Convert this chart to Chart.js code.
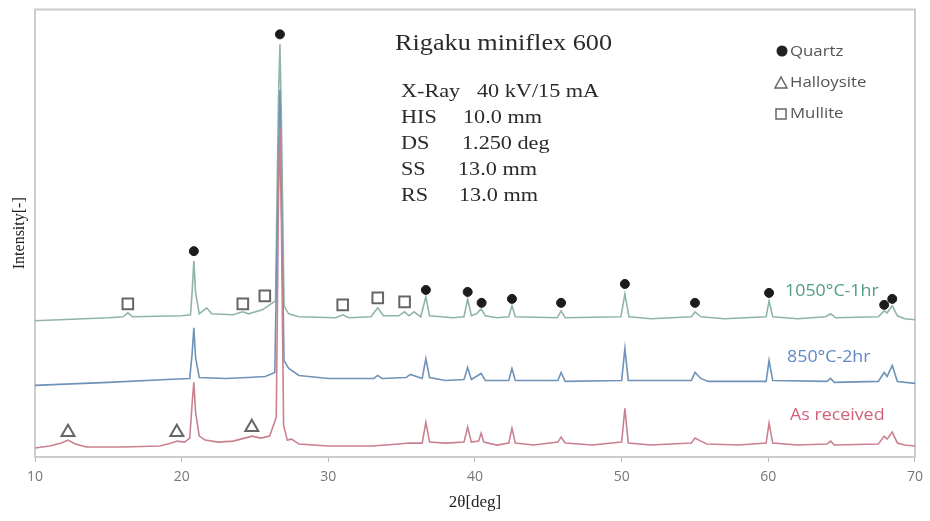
<!DOCTYPE html>
<html>
<head>
<meta charset="utf-8">
<script src="https://cdn.jsdelivr.net/npm/chart.js@4/dist/chart.umd.min.js"></script>
<style>
  body { margin: 0; background: #fff; }
</style>
</head>
<body>
<canvas id="xrd" width="930" height="521"></canvas>
<script>
// XRD patterns: [2theta (deg), intensity (a.u., stacked)]
const asReceived = [[10,9],[11,11],[11.8,14],[12.25,17],[12.75,13],[13.5,10],[16,10],[18.5,11],[19.3,14],[19.7,16],[20.2,15],[20.55,19],[20.72,55],[20.83,75],[20.95,45],[21.2,21],[21.6,17],[22.5,15],[23.5,16],[24.3,19],[24.8,21],[25.4,19],[26.0,21],[26.45,40],[26.6,255],[26.7,332],[26.8,235],[26.95,32],[27.2,17],[27.5,18],[28,13],[30,11],[33,11],[34.8,13],[35.5,14],[36.4,14],[36.65,35],[36.9,15],[38,14],[39.25,15],[39.5,30],[39.75,15],[40.25,16],[40.42,24],[40.6,15],[41.5,12],[42.3,14],[42.52,29],[42.75,14],[44,12],[45.65,15],[45.87,20],[46.15,14],[48,12],[50.0,15],[50.22,49],[50.45,14],[52,12],[54.75,14],[55.0,19],[55.4,16],[55.8,13],[58,12],[59.85,14],[60.05,34],[60.3,14],[62,12],[64.0,13],[64.25,16],[64.5,12],[67.5,13],[67.9,21],[68.1,18],[68.45,25],[68.8,14],[69.3,12],[70,11]];

const fired850 = [[10,72],[15,75],[19,78],[20.55,79],[20.72,105],[20.83,130],[20.95,100],[21.2,80],[23,79],[24.5,80],[25.7,81],[26.35,85],[26.6,300],[26.7,369],[26.8,260],[26.98,97],[27.3,89],[28,82],[30,79],[33.1,79],[33.37,82],[33.65,79],[35.3,80],[35.6,83],[36.4,79],[36.65,99],[36.9,80],[38,77],[39.25,78],[39.5,90],[39.75,78],[40.42,84],[40.7,77],[42.3,77],[42.52,89],[42.75,77],[45.65,77],[45.87,85],[46.15,76],[50.0,77],[50.22,109],[50.45,77],[54.75,77],[55.0,85],[55.4,79],[55.9,76],[59.85,76],[60.05,97],[60.3,77],[64.0,76],[64.25,79],[64.5,75],[67.5,76],[67.9,85],[68.1,81],[68.45,92],[68.8,76],[70,74]];

const fired1050 = [[10,137],[15,140],[16.0,141],[16.33,145],[16.65,141],[20,142],[20.6,143],[20.72,167],[20.83,197],[20.95,165],[21.2,144],[21.7,150],[22.05,144],[23.5,143],[24.17,146],[24.55,144],[25.5,148],[25.9,152],[26.4,157],[26.6,360],[26.7,415],[26.8,340],[26.98,152],[27.3,144],[28,141],[30.5,140],[30.98,143],[31.4,140],[32.9,141],[33.37,150],[33.75,142],[34.8,142],[35.2,146],[35.5,142],[35.85,146],[36.3,141],[36.65,161],[36.9,142],[38.5,140],[39.25,141],[39.5,159],[39.75,142],[40.1,144],[40.42,149],[40.7,142],[41.5,140],[42.3,141],[42.52,152],[42.75,141],[45.6,140],[45.87,147],[46.15,140],[49.95,141],[50.22,164],[50.5,141],[52,139],[54.75,141],[55.0,146],[55.4,141],[57,139],[59.85,141],[60.05,157],[60.3,141],[62,139],[63.9,141],[64.25,144],[64.6,140],[67.5,141],[67.9,147],[68.1,145],[68.45,152],[68.8,142],[69.3,139],[70,138]];

// phase marks placed over the peaks
const quartzPeaks = [[26.7,425],[20.83,207],[36.65,168],[39.5,166],[40.45,155],[42.52,159],[45.87,155],[50.22,174],[55.0,155],[60.05,165],[67.9,153],[68.45,159]];
const halloysitePeaks = [[12.25,25],[19.67,25],[24.78,30]];
const mullitePeaks = [[16.33,154],[24.17,154],[25.67,162],[30.98,153],[33.37,160],[35.2,156]];

const seriesNames = ["As received", "850\u00B0C-2hr", "1050\u00B0C-1hr"];
const phaseNames = ["Quartz", "Halloysite", "Mullite"];
const xTicks = [10, 20, 30, 40, 50, 60, 70];

const toXY = arr => arr.map(p => ({x: p[0], y: p[1]}));

function stretchText(ctx, text, x, y, sx) {
    ctx.save();
    ctx.translate(x, y);
    ctx.scale(sx, 1);
    ctx.fillText(text, 0, 0);
    ctx.restore();
}

const notes = {
    id: "notes",
    beforeDatasetsDraw(chart) {
        const {ctx, chartArea: a} = chart;
        ctx.save();
        ctx.strokeStyle = "#cccccc";
        ctx.lineWidth = 2;
        ctx.strokeRect(a.left, a.top, a.right - a.left, a.bottom - a.top);
        ctx.restore();
    },
    afterDraw(chart) {
        const ctx = chart.ctx;
        ctx.save();
        ctx.fillStyle = "#2a2a2a";
        ctx.textBaseline = "alphabetic";
        ctx.font = "23px 'Liberation Serif'";
        stretchText(ctx, "Rigaku miniflex 600", 395, 50, 1.14);
        ctx.font = "18.5px 'Liberation Serif'";
        const rows = [["X-Ray", "40 kV/15 mA", 477], ["HIS", "10.0 mm", 463], ["DS", "1.250 deg", 462], ["SS", "13.0 mm", 458], ["RS", "13.0 mm", 459]];
        rows.forEach((r, i) => {
            stretchText(ctx, r[0], 401, 97 + i * 26, 1.2);
            stretchText(ctx, r[1], r[2], 97 + i * 26, 1.2);
        });

        // phase legend
        ctx.fillStyle = "#222";
        ctx.beginPath();
        ctx.arc(782, 51, 5.5, 0, Math.PI * 2);
        ctx.fill();
        ctx.strokeStyle = "#666";
        ctx.lineWidth = 1.5;
        ctx.beginPath();
        ctx.moveTo(781, 77); ctx.lineTo(787, 88); ctx.lineTo(775, 88); ctx.closePath();
        ctx.stroke();
        ctx.strokeRect(776, 109, 10, 10);
        ctx.fillStyle = "#555";
        ctx.textBaseline = "middle";
        ctx.font = "15px 'Open Sans'";
        stretchText(ctx, phaseNames[0], 790, 52, 1.12);
        stretchText(ctx, phaseNames[1], 790, 83, 1.12);
        stretchText(ctx, phaseNames[2], 790, 114, 1.12);

        // series labels
        ctx.font = "16.5px 'Open Sans'";
        ctx.fillStyle = "#4f9e84";
        stretchText(ctx, seriesNames[2], 785, 291, 1.08);
        ctx.fillStyle = "#5f88c4";
        stretchText(ctx, seriesNames[1], 787, 357, 1.08);
        ctx.fillStyle = "#d1607a";
        stretchText(ctx, seriesNames[0], 790, 415, 1.08);
        ctx.restore();
    }
};

const chart = new Chart(document.getElementById("xrd"), {
    type: "scatter",
    data: {
        datasets: [
            {label: phaseNames[0], data: toXY(quartzPeaks), pointStyle: "circle", pointRadius: 4.5, backgroundColor: "#1c1c1c", borderColor: "#1c1c1c", borderWidth: 1},
            {label: phaseNames[1], data: toXY(halloysitePeaks), pointStyle: "triangle", pointRadius: 7.5, backgroundColor: "rgba(255,255,255,0)", borderColor: "#666", borderWidth: 2},
            {label: phaseNames[2], data: toXY(mullitePeaks), pointStyle: "rect", pointRadius: 7.5, backgroundColor: "rgba(255,255,255,0)", borderColor: "#666", borderWidth: 2},
            {label: seriesNames[0], data: toXY(asReceived), showLine: true, pointRadius: 0, borderColor: "#c9808f", borderWidth: 1.6, tension: 0},
            {label: seriesNames[1], data: toXY(fired850), showLine: true, pointRadius: 0, borderColor: "#6f93b8", borderWidth: 1.6, tension: 0},
            {label: seriesNames[2], data: toXY(fired1050), showLine: true, pointRadius: 0, borderColor: "#8fb5a6", borderWidth: 1.6, tension: 0},
        ],
    },
    options: {
        responsive: false,
        animation: false,
        layout: {padding: {top: 7, right: 14, left: 0, bottom: 0}},
        plugins: {legend: {display: false}, tooltip: {enabled: false}},
        scales: {
            x: {
                type: "linear", min: 10, max: 70,
                afterBuildTicks: s => { s.ticks = xTicks.map(v => ({value: v})); },
                afterFit: s => { s.height = 64; },
                ticks: {color: "#777", font: {family: "Open Sans", size: 14}, padding: 7},
                grid: {drawOnChartArea: false, tickLength: 5, color: "#bbb"},
                border: {color: "#c4c4c4", width: 2},
                title: {display: true, text: "2\u03B8[deg]", color: "#222", font: {family: "Liberation Serif", size: 17}, padding: {top: 0, bottom: 8}},
            },
            y: {
                min: 0, max: 450,
                afterFit: s => { s.width = 35; },
                ticks: {display: false},
                grid: {display: false},
                border: {display: false},
                title: {display: true, text: "Intensity[-]", color: "#222", font: {family: "Liberation Serif", size: 16}, padding: {top: 10, bottom: 0}},
            },
        },
    },
    plugins: [notes],
});
</script>
</body>
</html>
